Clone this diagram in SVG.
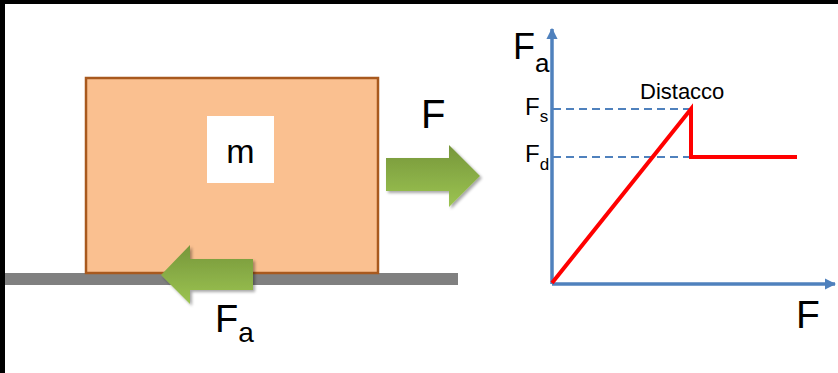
<svg xmlns="http://www.w3.org/2000/svg" width="838" height="373" viewBox="0 0 838 373">
<defs>
<linearGradient id="g" x1="0" y1="0" x2="0" y2="1">
<stop offset="0" stop-color="#76963A"/>
<stop offset="1" stop-color="#9CC452"/>
</linearGradient>
<filter id="sh" x="-20%" y="-20%" width="150%" height="150%">
<feGaussianBlur in="SourceAlpha" stdDeviation="1.5"/>
<feOffset dx="1.5" dy="2" result="b"/>
<feComponentTransfer><feFuncA type="linear" slope="0.35"/></feComponentTransfer>
<feMerge><feMergeNode/><feMergeNode in="SourceGraphic"/></feMerge>
</filter>
<marker id="ah" viewBox="0 0 10 10" refX="9" refY="5" markerWidth="3.2" markerHeight="3.2" orient="auto" markerUnits="strokeWidth">
<path d="M0,0 L10,5 L0,10 Z" fill="#4F81BD"/>
</marker>
<style>
text{font-family:"Liberation Sans","Open Sans",Arial,sans-serif;fill:#000}
.ax{stroke:#4F81BD;stroke-width:3.5;fill:none}
.da{stroke:#4F81BD;stroke-width:2;stroke-dasharray:8 5;fill:none}
.red{stroke:#FF0000;stroke-width:4;fill:none;stroke-linejoin:miter}
.arr{fill:url(#g);filter:url(#sh)}
</style>
</defs>
<rect x="0" y="0" width="838" height="373" fill="#fff"/>
<rect x="0" y="0" width="838" height="4" fill="#000"/>
<rect x="0" y="0" width="5" height="373" fill="#000"/>

<g id="ground"><rect x="5" y="273" width="453" height="12" fill="#808080"/></g>
<g id="mass">
<rect x="86" y="78" width="292" height="195" fill="#FAC090" stroke="#A8591E" stroke-width="2.5"/>
<rect x="207" y="116" width="67" height="67" fill="#fff"/>
<text x="240.5" y="163" font-size="34" text-anchor="middle">m</text>
</g>
<g id="force-F">
<path class="arr" d="M386,158 L449,158 L449,145 L480,176 L449,207 L449,191 L386,191 Z"/>
<text x="421" y="128" font-size="40">F</text>
</g>
<g id="force-Fa">
<path class="arr" d="M253,259 L190,259 L190,245 L161,275 L190,304 L190,290 L253,290 Z"/>
<text x="215" y="332" font-size="38">F<tspan font-size="28" dy="10">a</tspan></text>
</g>

<g id="graph">
<g id="axes">
<line class="ax" x1="552" y1="284" x2="552" y2="29" marker-end="url(#ah)"/>
<line class="ax" x1="552" y1="284" x2="835" y2="284" marker-end="url(#ah)"/>
</g>
<g id="connectors">
<line class="da" x1="553" y1="109" x2="690" y2="109"/>
<line class="da" x1="553" y1="157" x2="690" y2="157"/>
<polyline class="red" points="552,283 691,109 691,157 797,157"/>
</g>
<text x="513" y="59" font-size="36">F<tspan font-size="26" dy="13">a</tspan></text>
<text x="525" y="115" font-size="24">F<tspan font-size="17" dy="7">s</tspan></text>
<text x="525" y="162" font-size="24">F<tspan font-size="17" dy="8">d</tspan></text>
<text x="640" y="99" font-size="22">Distacco</text>
<text x="796" y="328" font-size="39">F</text>
</g>
</svg>
